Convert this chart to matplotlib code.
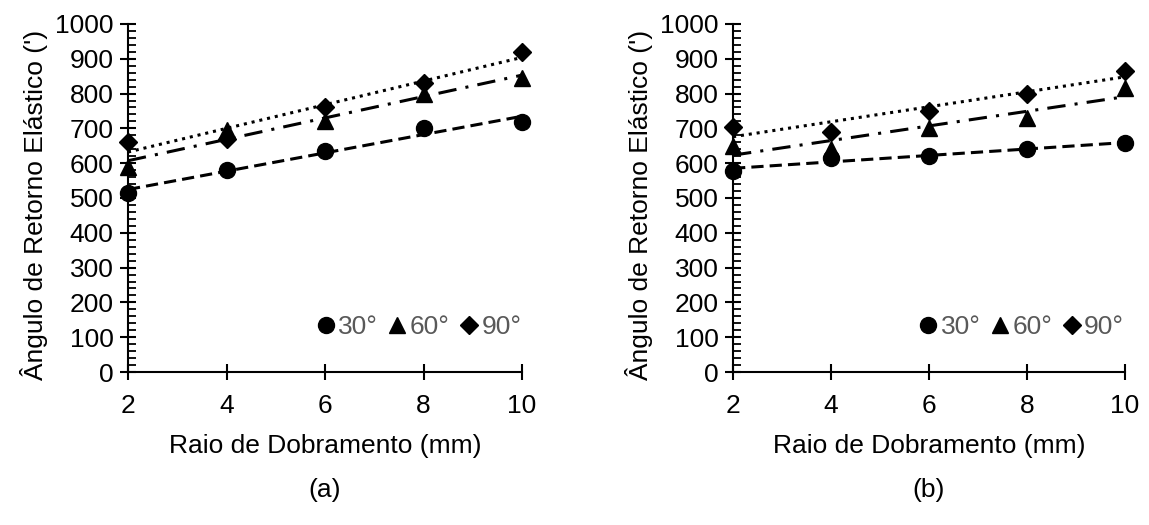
import numpy as np
import matplotlib
matplotlib.use("Agg")
import matplotlib.pyplot as plt
from matplotlib.ticker import MultipleLocator

plt.rcParams['font.family'] = ['Liberation Sans', 'DejaVu Sans']

raio = [2, 4, 6, 8, 10]
series_labels = ['30°', '60°', '90°']

# (a)
a_30 = [515, 580, 635, 700, 718]
a_60 = [590, 695, 720, 800, 845]
a_90 = [660, 670, 760, 830, 920]

# (b)
b_30 = [578, 615, 620, 640, 658]
b_60 = [650, 640, 700, 730, 815]
b_90 = [705, 690, 750, 800, 865]

markers = ['o', '^', 'D']
msizes = [11.5, 11, 9]
trend_styles = [(0, (4, 2)), (0, (6, 3, 1, 3)), (0, (1, 1.6))]
FS = 19

fig = plt.figure(figsize=(11.49, 5.25), dpi=100)
ax_a = fig.add_axes([0.1114, 0.2914, 0.343, 0.663])
ax_b = fig.add_axes([0.638, 0.2914, 0.341, 0.663])


def draw(ax, data, tag):
    x = np.array(raio, dtype=float)
    for vals, m, ms, ls, lab in zip(data, markers, msizes, trend_styles, series_labels):
        y = np.array(vals, dtype=float)
        ax.plot(x, y, linestyle='none', marker=m, markersize=ms,
                color='black', label=lab, clip_on=False, zorder=3)
        k, b = np.polyfit(x, y, 1)
        ax.plot(x, k * x + b, color='black', linewidth=2.2, linestyle=ls, zorder=2)
    ax.set_xlim(2, 10)
    ax.set_ylim(0, 1000)
    ax.xaxis.set_major_locator(MultipleLocator(2))
    ax.yaxis.set_major_locator(MultipleLocator(100))
    ax.yaxis.set_minor_locator(MultipleLocator(20))
    for s in ['top', 'right']:
        ax.spines[s].set_visible(False)
    for s in ['left', 'bottom']:
        ax.spines[s].set_linewidth(1.5)
    ax.tick_params(axis='both', which='major', direction='inout', length=11,
                   width=1.5, labelsize=FS)
    ax.tick_params(axis='x', which='major', pad=10.5)
    ax.tick_params(axis='y', which='major', pad=5)
    ax.tick_params(axis='y', which='minor', direction='in', length=6, width=1.3)
    ax.set_xlabel('Raio de Dobramento (mm)', fontsize=FS, labelpad=11)
    ax.set_ylabel("Ângulo de Retorno Elástico (')", fontsize=FS, labelpad=5, y=0.48)
    leg = ax.legend(loc='lower right', ncol=3, frameon=False, fontsize=FS,
                    handlelength=0.55, handletextpad=0.2, columnspacing=0.45,
                    borderaxespad=0.0, bbox_to_anchor=(1.025, 0.065))
    for t in leg.get_texts():
        t.set_color('#595959')
    ax.text(0.5, -0.339, tag, transform=ax.transAxes, ha='center', va='center',
            fontsize=FS)


draw(ax_a, [a_30, a_60, a_90], '(a)')
draw(ax_b, [b_30, b_60, b_90], '(b)')

fig.savefig('out.png', dpi=100)
